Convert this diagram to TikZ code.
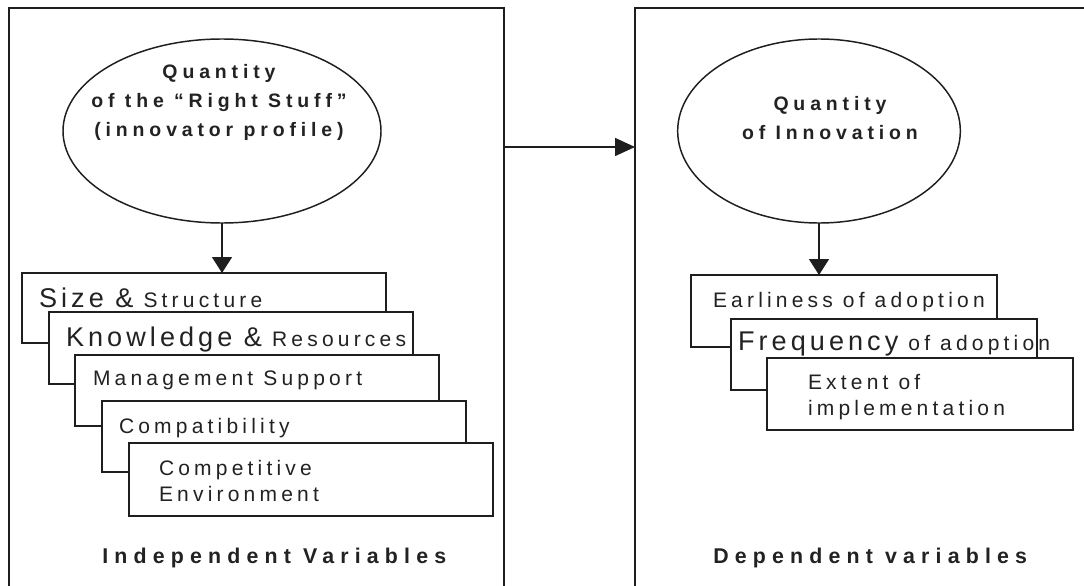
\documentclass[tikz,border=0pt]{standalone}
\usepackage{fontspec}
\setmainfont{Liberation Sans}
\newfontfamily\lsfont[LetterSpace=20]{Liberation Sans}
\newfontfamily\lsbig[LetterSpace=15]{Liberation Sans}
\newfontfamily\lsbold[LetterSpace=29]{Liberation Sans}
\newfontfamily\lsell[LetterSpace=25]{Liberation Sans}
\usetikzlibrary{shapes.geometric,arrows.meta}
\definecolor{ink}{HTML}{1E1E1E}
\definecolor{txt}{HTML}{222222}

% text helpers
\newcommand{\smalltxt}{\lsfont\fontsize{15.75}{19.5}\selectfont}
\newcommand{\bigtxt}{\lsbig\fontsize{20.3}{23}\selectfont}

\begin{document}
\begin{tikzpicture}[x=0.75pt,y=-0.75pt,
  frame/.style={draw=ink,line width=1.2pt,rectangle,inner sep=0pt,outer sep=0pt,anchor=north west},
  oval/.style={draw=ink,line width=1.1pt,ellipse,inner sep=0pt,outer sep=0pt},
  card/.style={draw=ink,line width=1.3pt,fill=white,rectangle,inner sep=0pt,outer sep=0pt,anchor=north west},
  lcard/.style={card,minimum width=273pt},
  rcard/.style={card,minimum width=229.5pt},
  label/.style={inner sep=0pt,outer sep=0pt,anchor=base west,text=txt,align=left,font=\smalltxt},
  ovaltext/.style={inner sep=0pt,text=txt,align=center,font={\lsell\bfseries\fontsize{14.6}{21.75}\selectfont}},
  caption/.style={inner sep=0pt,anchor=base west,text=txt,font={\lsbold\bfseries\fontsize{16}{18}\selectfont}},
  downarrow/.style={draw=ink,line width=1.1pt,-{Triangle[length=12pt,width=15pt]}},
  sidearrow/.style={draw=ink,line width=1.1pt,-{Triangle[length=15pt,width=13.5pt]}}
]
\useasboundingbox (0,0) rectangle (1084,585);
\clip (0,0) rectangle (1084,585);
\fill[white] (0,0) rectangle (1084,585);

% two outer frames
\node[frame,minimum width=371.25pt,minimum height=450pt] (indep) at (9,8) {};
\node[frame,minimum width=360pt,minimum height=450pt] (dep) at (635,8) {};

% left side: innovator profile
\node[oval,minimum width=238.5pt,minimum height=138pt] (eL) at (222,131) {};
\node[ovaltext] (eLt) at (219,102) {Quantity\\of the “Right Stuff”\\(innovator profile)};

\node[lcard,minimum height=52.5pt] (s1) at (22,273) {};
\node[label] (s1t) at (39,307) {{\bigtxt Size \&} Structure};
\node[lcard,minimum height=54pt] (s2) at (49,312) {};
\node[label] (s2t) at (66,346) {{\bigtxt Knowledge \&} Resources};
\node[lcard,minimum height=53.25pt] (s3) at (75,355) {};
\node[label] (s3t) at (93,385) {Management Support};
\node[lcard,minimum height=53.25pt] (s4) at (102,401) {};
\node[label] (s4t) at (119,433) {Compatibility};
\node[lcard,minimum height=54.75pt] (s5) at (129,443) {};
% two-line labels are anchored on the baseline of their last line
\node[label] (s5t) at (159,501) {Competitive\\Environment};

\node[caption] (capL) at (102,563) {Independent Variables};

% right side: innovation outcome
\node[oval,minimum width=212pt,minimum height=138pt] (eR) at (819,131) {};
\node[ovaltext] (eRt) at (830,118) {Quantity\\of Innovation};

\node[rcard,minimum height=54pt] (r1) at (691,275) {};
\node[label] (r1t) at (713,307) {Earliness of adoption};
\node[rcard,minimum height=53.25pt] (r2) at (731,319) {};
\node[label] (r2t) at (738,350) {{\bigtxt Frequency} of adoption};
\node[rcard,minimum height=54pt] (r3) at (767,358) {};
\node[label] (r3t) at (808,415) {Extent of\\implementation};

\node[caption] (capR) at (713,563) {Dependent variables};

% connectors
\draw[downarrow] (eL.south) -- (eL.south |- s1.north);
\draw[downarrow] (eR.south) -- (eR.south |- r1.north);
\coordinate (row) at (0,147);
\draw[sidearrow] (indep.east |- row) -- (dep.west |- row);
\end{tikzpicture}
\end{document}
